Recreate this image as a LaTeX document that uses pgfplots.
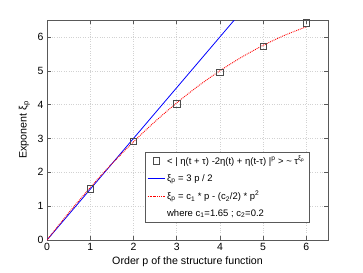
\documentclass[border=0pt]{standalone}
\usepackage{fontspec}
\setmainfont{Liberation Sans}
\usepackage{pgfplots}
\pgfplotsset{compat=1.18}
\begin{document}
\begin{tikzpicture}
\useasboundingbox (-47bp,-33bp) rectangle (316bp,240bp);
\begin{axis}[
  scale only axis,
  width=281bp, height=220bp,
  xmin=0, xmax=6.5, ymin=0, ymax=6.5,
  xtick={0,1,2,3,4,5,6}, ytick={0,1,2,3,4,5,6},
  tick align=inside,
  major tick length=4bp,
  grid=major,
  grid style={gray!35, dotted, line width=0.4pt},
  axis line style={gray!70!black, line width=0.6pt},
  tick style={gray!70!black, line width=0.5pt},
  /pgf/number format/assume math mode=true,
  ticklabel style={font=\fontsize{10.5}{12}\selectfont},
  label style={font=\fontsize{10.7}{12}\selectfont},
  xlabel={Order p of the structure function},
  ylabel={Exponent ξ\textsubscript{p}},
  xlabel style={yshift=1bp},
  ylabel style={yshift=1bp},
  legend style={at={(0.349,0.402)}, anchor=north west, draw=gray!70!black,
    font=\fontsize{9.5}{11}\selectfont, inner sep=2bp, row sep=4.5bp,
    cells={anchor=west}},
  legend cell align=left,
]
\addplot[only marks, mark=square, mark size=3.2bp, draw=black!70, line width=0.5pt]
  coordinates {(1,1.52) (2,2.92) (3,4.02) (4,4.95) (5,5.73) (6,6.42)};
\addlegendentry{< | η(t + τ) -2η(t) + η(t-τ) |\textsuperscript{p} > \textasciitilde\ τ\textsuperscript{ξ\textsubscript{p}}}
\addplot[color=blue, line width=0.8pt] coordinates {(0,0) (4.3333,6.5)};
\addlegendentry{ξ\textsubscript{p} = 3 p / 2}
\addplot[color=red, densely dotted, line width=0.9pt, smooth] coordinates {
 (0,0) (0.5,0.8) (1,1.55) (1.5,2.25) (2,2.9) (2.5,3.5) (3,4.05) (3.5,4.55)
 (4,5.0) (4.5,5.4) (5,5.75) (5.5,6.05) (6,6.3)};
\addlegendentry{ξ\textsubscript{p} = c\textsubscript{1} * p - (c\textsubscript{2}/2) * p\textsuperscript{2}}
\addlegendimage{empty legend}
\addlegendentry{where c\textsubscript{1}=1.65 ; c\textsubscript{2}=0.2}
\end{axis}
\end{tikzpicture}
\end{document}
